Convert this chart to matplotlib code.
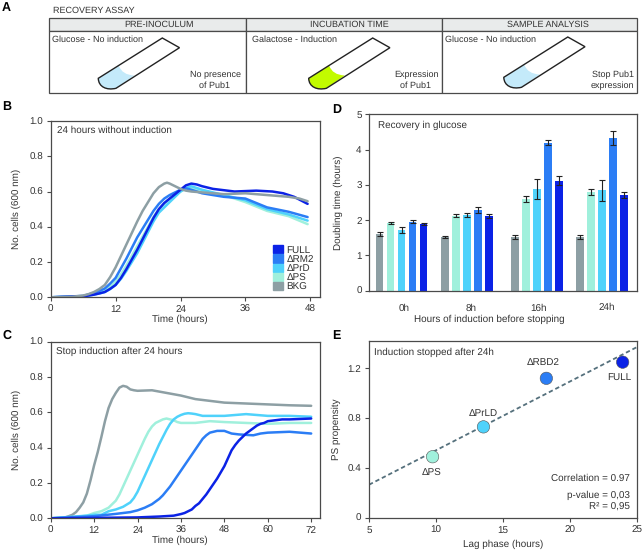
import matplotlib
matplotlib.use('Agg')
import matplotlib.pyplot as plt
import numpy as np
from matplotlib.patches import PathPatch, Patch, Rectangle
from matplotlib.path import Path

plt.rcParams['font.family'] = ['Liberation Sans', 'DejaVu Sans']
plt.rcParams['font.size'] = 7.1
plt.rcParams['text.hinting'] = 'none'
plt.rcParams['text.color'] = '#333333'
plt.rcParams['axes.labelcolor'] = '#333333'
plt.rcParams['xtick.labelcolor'] = '#333333'
plt.rcParams['ytick.labelcolor'] = '#333333'

W, H = 643, 551

C_FULL = '#0b22e6'
C_RM2 = '#2b7df5'
C_PRD = '#4fd2fb'
C_PS = '#a0f0dc'
C_BKG = '#8d9fa4'
C_EDGE = '#4a4a4a'

# panel B, growth without induction
b_bkg_t = [0, 4, 6, 7, 8, 9, 10, 11, 12, 13, 14, 15, 16, 17, 18, 19, 20, 21, 21.5, 22, 23, 24, 25, 26, 28, 32, 36, 40, 44, 46, 47.5]
b_bkg = [0, .003, .01, .018, .03, .047, .07, .115, .17, .235, .3, .365, .43, .49, .54, .59, .625, .645, .65, .645, .63, .615, .605, .6, .595, .585, .59, .58, .57, .56, .545]
b_full_t = [0, 6, 8, 9, 10, 11, 12, 13, 14, 15, 16, 17, 18, 19, 20, 21, 22, 23, 24, 25, 26, 27, 28, 30, 34, 38, 41, 43, 45, 47.5]
b_full = [0, .005, .015, .022, .03, .048, .07, .11, .16, .215, .27, .33, .39, .45, .50, .535, .56, .585, .61, .635, .645, .64, .63, .615, .60, .605, .6, .59, .57, .53]
b_rm2_t = [0, 6, 8, 9, 10, 11, 12, 13, 14, 15, 16, 17, 18, 19, 20, 21, 22, 23, 24, 25, 26, 27, 28, 30, 32, 36, 40, 44, 47.5]
b_rm2 = [0, .008, .025, .036, .05, .078, .11, .165, .22, .28, .34, .39, .44, .49, .53, .56, .58, .595, .61, .618, .61, .6, .59, .58, .57, .56, .51, .485, .455]
b_prd_t = [0, 6, 8, 9, 10, 11, 12, 13, 14, 15, 16, 17, 18, 19, 20, 21, 22, 23, 24, 25, 26, 27, 28, 32, 36, 40, 44, 47.5]
b_prd = [0, .005, .015, .022, .03, .047, .07, .105, .15, .2, .25, .31, .37, .43, .48, .51, .54, .57, .60, .62, .63, .62, .61, .58, .55, .50, .47, .435]
b_ps_t = [0, 6, 8, 9, 10, 11, 12, 13, 14, 15, 16, 17, 18, 19, 20, 21, 22, 23, 24, 25, 26, 27, 28, 32, 36, 40, 44, 47.5]
b_ps = [0, .006, .02, .03, .04, .062, .09, .13, .18, .235, .29, .345, .40, .455, .50, .53, .56, .58, .60, .615, .62, .61, .60, .58, .54, .49, .46, .415]

# panel C, growth after induction stopped at 24h
c_bkg_t = [0, 4, 5, 6, 7, 8, 9, 10, 11, 12, 13, 14, 15, 16, 17, 18, 19, 20, 21, 22, 23, 24, 28, 32, 36, 40, 44, 48, 54, 60, 66, 72]
c_bkg = [0, .005, .012, .02, .035, .06, .09, .14, .215, .3, .375, .46, .55, .625, .675, .71, .74, .75, .745, .73, .725, .722, .725, .71, .695, .675, .665, .655, .65, .645, .64, .637]
c_ps_t = [0, 6, 8, 10, 12, 14, 16, 17, 18, 19, 20, 21, 22, 23, 24, 25, 26, 27, 28, 29, 30, 31, 32, 33, 34, 35, 36, 40, 44, 48, 54, 60, 66, 72]
c_ps = [0, .005, .01, .015, .03, .04, .06, .08, .10, .135, .18, .225, .27, .315, .36, .405, .45, .49, .52, .54, .55, .56, .565, .56, .555, .545, .54, .54, .55, .545, .54, .535, .54, .54]
c_prd_t = [0, 10, 12, 14, 16, 18, 20, 22, 23, 24, 25, 26, 27, 28, 29, 30, 31, 32, 33, 34, 35, 36, 37, 38, 39, 40, 42, 48, 54, 60, 66, 72]
c_prd = [0, .015, .02, .02, .04, .05, .065, .09, .115, .15, .195, .24, .285, .33, .375, .42, .46, .50, .535, .56, .575, .585, .592, .595, .593, .59, .58, .58, .59, .58, .58, .575]
c_rm2_t = [0, 12, 18, 22, 24, 26, 27, 28, 29, 30, 31, 32, 33, 34, 35, 36, 37, 38, 39, 40, 41, 42, 43, 44, 45, 46, 48, 50, 52, 56, 58, 60, 66, 72]
c_rm2 = [0, .012, .025, .035, .045, .06, .07, .08, .095, .11, .13, .155, .18, .21, .24, .27, .30, .33, .36, .39, .42, .45, .47, .485, .49, .495, .495, .48, .475, .47, .48, .485, .49, .48]
c_full_t = [0, 24, 30, 34, 36, 37, 38, 39, 40, 41, 42, 43, 44, 45, 46, 47, 48, 49, 50, 51, 52, 53, 54, 55, 56, 57, 58, 59, 60, 62, 64, 66, 72]
c_full = [0, .005, .01, .015, .024, .03, .04, .05, .07, .085, .11, .135, .165, .195, .225, .26, .295, .34, .385, .415, .44, .46, .48, .495, .51, .525, .535, .54, .55, .555, .56, .56, .565]

# panel D, doubling times
d_groups = ['0h', '8h', '16h', '24h']
d_bkg = [1.6, 1.52, 1.52, 1.52]
d_ps = [1.92, 2.12, 2.6, 2.8]
d_prd = [1.72, 2.15, 2.88, 2.85]
d_rm2 = [1.96, 2.28, 4.2, 4.32]
d_full = [1.88, 2.12, 3.12, 2.72]
d_bkg_err = [.05, .04, .05, .05]
d_ps_err = [.04, .04, .09, .08]
d_prd_err = [.08, .05, .28, .3]
d_rm2_err = [.04, .08, .06, .2]
d_full_err = [.03, .06, .12, .09]

# panel E, lag phase vs propensity
e_lag = [9.75, 13.55, 18.25, 23.95]
e_ps = [.49, .73, 1.12, 1.25]
e_names = ['ΔPS', 'ΔPrLD', 'ΔRBD2', 'FULL']
e_fit_x = [5, 25]
e_fit_y = [.265, 1.37]


def axes_px(fig, left, top, right, bottom):
    ax = fig.add_axes([left / W, 1 - bottom / H, (right - left) / W, (bottom - top) / H])
    for s in ax.spines.values():
        s.set_color(C_EDGE)
        s.set_linewidth(0.9)
    ax.tick_params(length=3, width=0.8, color=C_EDGE, pad=2.5, labelsize=7.1)
    return ax


def set_labels(ax, xlabel, ylabel, xpos, ypos, ylab_x):
    ax.set_xlabel(xlabel)
    ax.set_ylabel(ylabel)
    ax.xaxis.label.set_va('center')
    ax.yaxis.label.set_va('center')
    ax.xaxis.set_label_coords(xpos, ypos)
    ax.yaxis.set_label_coords(ylab_x, 0.5)


def draw_tube(ax, dx, dy, color):
    bottom = [(116 + dx, 88.3 + dy), (106.7 + dx, 90.5 + dy), (98.5 + dx, 87 + dy), (98.3 + dx, 78.3 + dy)]
    verts = [(162.3 + dx, 38 + dy), (179.5 + dx, 47.7 + dy)] + bottom + [(162.3 + dx, 38 + dy)]
    codes = [Path.MOVETO, Path.LINETO, Path.LINETO,
             Path.CURVE4, Path.CURVE4, Path.CURVE4, Path.CLOSEPOLY]
    liquid = [(118.7 + dx, 65.5 + dy), (122 + dx, 75 + dy), (134.3 + dx, 75.5 + dy)] + bottom + [(118.7 + dx, 65.5 + dy)]
    liquid_codes = [Path.MOVETO, Path.CURVE3, Path.CURVE3, Path.LINETO,
                    Path.CURVE4, Path.CURVE4, Path.CURVE4, Path.CLOSEPOLY]
    ax.add_patch(PathPatch(Path(liquid, liquid_codes), facecolor=color, edgecolor='none'))
    ax.add_patch(PathPatch(Path(verts, codes), facecolor='none', edgecolor='#222222', lw=1.0))


fig = plt.figure(figsize=(W / 100, H / 100), dpi=100)

# schematic panel drawn in pixel coordinates
bg = fig.add_axes([0, 0, 1, 1])
bg.set_xlim(0, W)
bg.set_ylim(H, 0)
bg.axis('off')

for x0, x1, xc, title in [(49, 245.7, 159.5, 'PRE-INOCULUM'), (245.7, 441.7, 349, 'INCUBATION TIME'),
                          (441.7, 637, 548, 'SAMPLE ANALYSIS')]:
    bg.add_patch(Rectangle((x0, 17.5), x1 - x0, 13.5, facecolor='#e9ebeb', edgecolor=C_EDGE, lw=0.9))
    bg.add_patch(Rectangle((x0, 31), x1 - x0, 62, facecolor='white', edgecolor=C_EDGE, lw=0.9))
    bg.text(xc, 24.3, title, ha='center', va='center', fontsize=6.5)

draw_tube(bg, 0, 0, '#c4eafa')
draw_tube(bg, 210.4, 0, '#c2fb00')
draw_tube(bg, 405.5, -1, '#c4eafa')

bg.text(52, 39.5, 'Glucose - No induction', va='center', fontsize=6.5)
bg.text(251.5, 39.5, 'Galactose - Induction', va='center', fontsize=6.5)
bg.text(445, 39.5, 'Glucose - No induction', va='center', fontsize=6.5)
bg.text(241, 75, 'No presence', ha='right', va='center', fontsize=6.5)
bg.text(230, 86, 'of Pub1', ha='right', va='center', fontsize=6.5)
bg.text(439, 75, 'Expression', ha='right', va='center', fontsize=6.5)
bg.text(431, 86, 'of Pub1', ha='right', va='center', fontsize=6.5)
bg.text(634, 75, 'Stop Pub1', ha='right', va='center', fontsize=6.5)
bg.text(634, 86, 'expression', ha='right', va='center', fontsize=6.5)
bg.text(53, 11, 'RECOVERY ASSAY', va='center', fontsize=6.5)

for letter, x, y in [('A', 2, 8), ('B', 2, 107), ('C', 2, 336), ('D', 332, 110), ('E', 332, 336)]:
    bg.text(x, y, letter, fontsize=9, fontweight='bold', color='black', va='center')

# B
ax = axes_px(fig, 50.7, 121, 319.5, 297.3)
for t, v, c in [(b_ps_t, b_ps, C_PS), (b_prd_t, b_prd, C_PRD), (b_rm2_t, b_rm2, C_RM2),
                (b_full_t, b_full, C_FULL), (b_bkg_t, b_bkg, C_BKG)]:
    ax.plot(t, v, color=c, lw=1.8, solid_capstyle='round')
ax.set_xlim(0, 49.7)
ax.set_ylim(0, 1)
ax.set_xticks([0, 12, 24, 36, 48])
ax.set_yticks([0, .2, .4, .6, .8, 1])
ax.set_yticklabels(['0.0', '0.2', '0.4', '0.6', '0.8', '1.0'])
set_labels(ax, 'Time (hours)', 'No. cells (600 nm)', 0.48, -0.123, -0.129)
ax.text(0.022, 0.945, '24 hours without induction', transform=ax.transAxes, va='center')
ax.legend(handles=[Patch(color=C_FULL, label='FULL'), Patch(color=C_RM2, label='ΔRM2'),
                   Patch(color=C_PRD, label='ΔPrD'), Patch(color=C_PS, label='ΔPS'),
                   Patch(color=C_BKG, label='BKG')],
          loc='lower right', bbox_to_anchor=(1.0, 0.0), frameon=False, fontsize=7.1,
          handlelength=1.0, handleheight=0.9, handletextpad=0.35, labelspacing=-0.03,
          borderpad=0.25, borderaxespad=0.3)

# C
ax = axes_px(fig, 50.7, 341.7, 319.5, 518.3)
for t, v, c in [(c_bkg_t, c_bkg, C_BKG), (c_ps_t, c_ps, C_PS), (c_prd_t, c_prd, C_PRD),
                (c_rm2_t, c_rm2, C_RM2), (c_full_t, c_full, C_FULL)]:
    ax.plot(t, v, color=c, lw=1.8, solid_capstyle='round')
ax.set_xlim(0, 74.3)
ax.set_ylim(0, 1)
ax.set_xticks([0, 12, 24, 36, 48, 60, 72])
ax.set_yticks([0, .2, .4, .6, .8, 1])
ax.set_yticklabels(['0.0', '0.2', '0.4', '0.6', '0.8', '1.0'])
set_labels(ax, 'Time (hours)', 'No. cells (600 nm)', 0.48, -0.126, -0.129)
ax.text(0.021, 0.945, 'Stop induction after 24 hours', transform=ax.transAxes, va='center')

# D
ax = axes_px(fig, 369.3, 114.3, 637.3, 290.7)
group_x = np.array([-0.03, -0.06, -0.03, -0.07])
bar_step = 0.162
series = [(d_bkg, d_bkg_err, C_BKG), (d_ps, d_ps_err, C_PS), (d_prd, d_prd_err, C_PRD),
          (d_rm2, d_rm2_err, C_RM2), (d_full, d_full_err, C_FULL)]
for i, (vals, errs, c) in enumerate(series):
    x = np.arange(4) + group_x + (i - 2) * bar_step
    ax.bar(x, vals, width=0.113, color=c)
    ax.errorbar(x, vals, yerr=errs, fmt='none', ecolor='#222222', elinewidth=0.8, capsize=2.2, capthick=0.8)
ax.set_xlim(-0.507, 3.453)
ax.set_ylim(0, 5)
ax.set_xticks(np.arange(4))
ax.set_xticklabels(d_groups)
ax.tick_params(axis='x', length=0, pad=9)
set_labels(ax, 'Hours of induction before stopping', 'Doubling time (hours)', 0.447, -0.165, -0.114)
ax.text(0.032, 0.94, 'Recovery in glucose', transform=ax.transAxes, va='center')

# E
ax = axes_px(fig, 369, 341, 636.7, 517.7)
ax.plot(e_fit_x, e_fit_y, color='#55707c', lw=1.3, ls=(0, (2.4, 1.6)))
ax.scatter(e_lag, e_ps, s=80, c=[C_PS, C_PRD, C_RM2, C_FULL], edgecolors='#555555', linewidths=0.4, zorder=3)
ax.set_xlim(5, 25)
ax.set_ylim(0, 1.42)
ax.set_xticks([5, 10, 15, 20, 25])
ax.set_yticks([0, .4, .8, 1.2])
ax.set_yticklabels(['0', '0.4', '0.8', '1.2'])
set_labels(ax, 'Lag phase (hours)', 'PS propensity', 0.5, -0.152, -0.122)
for name, x, y in zip(e_names, [9.71, 13.5, 18, 23.7], [.36, .84, 1.247, 1.126]):
    ax.text(x, y, name, ha='center', va='center')
ax.text(0.018, 0.938, 'Induction stopped after 24h', transform=ax.transAxes, va='center')
ax.text(0.973, 0.225, 'Correlation = 0.97', transform=ax.transAxes, ha='right', va='center')
ax.text(0.973, 0.125, 'p-value = 0,03', transform=ax.transAxes, ha='right', va='center')
ax.text(0.973, 0.06, 'R² = 0,95', transform=ax.transAxes, ha='right', va='center')

fig.savefig('out.png', dpi=100)
